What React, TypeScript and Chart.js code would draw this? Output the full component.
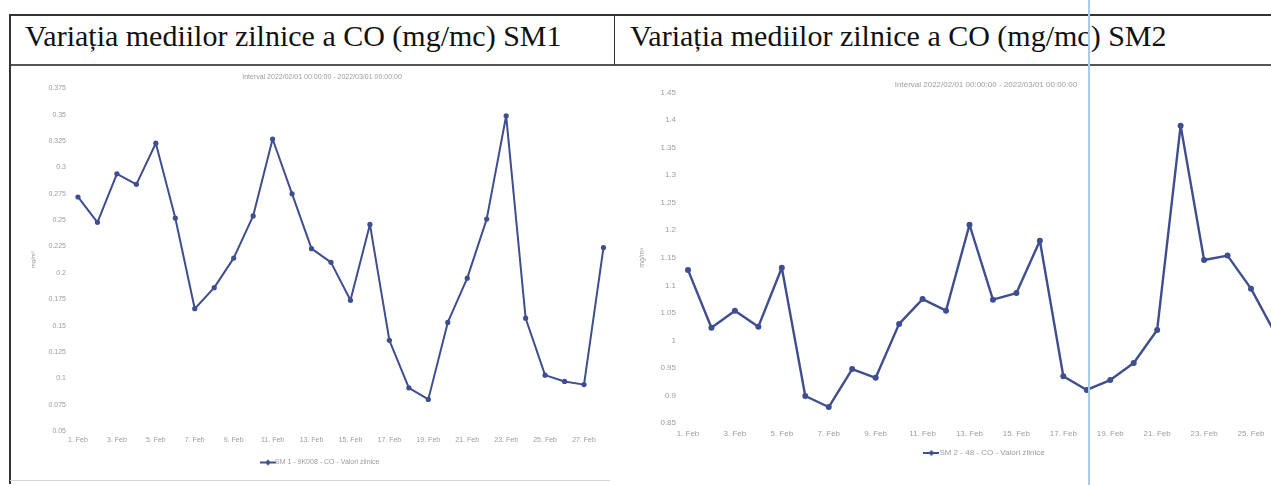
import React, { useEffect, useRef } from 'react';
import { Chart, registerables } from 'chart.js';

Chart.register(...registerables);

// ---------- data ----------
const sm1Days = [1, 2, 3, 4, 5, 6, 7, 8, 9, 10, 11, 12, 13, 14, 15, 16, 17, 18, 19, 20, 21, 22, 23, 24, 25, 26, 27, 28];
const sm1Values = [0.272, 0.248, 0.294, 0.284, 0.323, 0.252, 0.166, 0.186, 0.214, 0.254, 0.327, 0.275, 0.223, 0.21, 0.174, 0.246, 0.136, 0.091, 0.08, 0.153, 0.195, 0.251, 0.349, 0.157, 0.103, 0.097, 0.094, 0.224];

const sm2Days = [1, 2, 3, 4, 5, 6, 7, 8, 9, 10, 11, 12, 13, 14, 15, 16, 17, 18, 19, 20, 21, 22, 23, 24, 25, 26];
const sm2Values = [1.128, 1.023, 1.054, 1.025, 1.132, 0.899, 0.879, 0.948, 0.932, 1.03, 1.075, 1.054, 1.21, 1.074, 1.086, 1.181, 0.935, 0.91, 0.928, 0.959, 1.019, 1.39, 1.146, 1.154, 1.094, 1.015];

const xTickDays = [1, 3, 5, 7, 9, 11, 13, 15, 17, 19, 21, 23, 25, 27];
const sm1YTicks = [0.05, 0.075, 0.1, 0.125, 0.15, 0.175, 0.2, 0.225, 0.25, 0.275, 0.3, 0.325, 0.35, 0.375];
const sm2YTicks = [0.85, 0.9, 0.95, 1, 1.05, 1.1, 1.15, 1.2, 1.25, 1.3, 1.35, 1.4, 1.45];

const header1 = 'Variația mediilor zilnice a CO (mg/mc) SM1';
const header2 = 'Variația mediilor zilnice a CO (mg/mc) SM2';
const intervalText = 'Interval 2022/02/01 00:00:00 - 2022/03/01 00:00:00';
const sm1Label = 'SM 1 - 9K008 - CO - Valori zilnice';
const sm2Label = 'SM 2 - 48 - CO - Valori zilnice';
const unitLabel = 'mg/m³';

const LINE = '#3f4e8f';
const TEXT = '#9c9c9c';
const SANS = '"Liberation Sans", Arial, sans-serif';

type Cfg = {
  days: number[];
  values: number[];
  yTicks: number[];
  label: string;
  xMin: number;
  xMax: number;
  yAxisWidth: number;
  fontSize: number;
  lineWidth: number;
  pointRadius: number;
  titlePadTop: number;
  titlePadBottom: number;
  xAxisHeight: number;
  xTickPad: number;
  unitPad: number;
  legendPad: number;
  bottomPad: number;
};

function legendMarker(color: string, w: number, h: number, r: number, lw: number) {
  const c = document.createElement('canvas');
  c.width = w;
  c.height = h;
  const g = c.getContext('2d')!;
  g.strokeStyle = color;
  g.lineWidth = lw;
  g.beginPath();
  g.moveTo(0, h / 2);
  g.lineTo(w, h / 2);
  g.stroke();
  g.fillStyle = color;
  g.beginPath();
  g.moveTo(w / 2, h / 2 - r);
  g.lineTo(w / 2 + r, h / 2);
  g.lineTo(w / 2, h / 2 + r);
  g.lineTo(w / 2 - r, h / 2);
  g.closePath();
  g.fill();
  return c;
}

function LineChart({ cfg, style }: { cfg: Cfg; style: React.CSSProperties }) {
  const ref = useRef<HTMLCanvasElement | null>(null);
  useEffect(() => {
    if (!ref.current) return;
    const marker = legendMarker(LINE, 16, 8, 3, 2);
    const chart = new Chart(ref.current, {
      type: 'line',
      data: {
        datasets: [
          {
            label: cfg.label,
            data: cfg.days.map((d, i) => ({ x: d, y: cfg.values[i] })),
            borderColor: LINE,
            backgroundColor: LINE,
            borderWidth: cfg.lineWidth,
            borderJoinStyle: 'round',
            pointRadius: cfg.pointRadius,
            pointBackgroundColor: LINE,
            pointBorderWidth: 0,
            tension: 0,
          },
        ],
      },
      options: {
        animation: false,
        responsive: false,
        maintainAspectRatio: false,
        layout: { padding: { left: 0, right: 0, top: 0, bottom: cfg.bottomPad } },
        plugins: {
          title: {
            display: true,
            text: intervalText,
            color: TEXT,
            font: { family: SANS, size: cfg.fontSize, weight: 'normal' },
            padding: { top: cfg.titlePadTop, bottom: cfg.titlePadBottom },
          },
          legend: {
            display: true,
            position: 'bottom',
            labels: {
              color: TEXT,
              font: { family: SANS, size: cfg.fontSize },
              usePointStyle: true,
              padding: cfg.legendPad,
              generateLabels: (ch: any) =>
                Chart.defaults.plugins.legend.labels.generateLabels(ch).map((l: any) => ({
                  ...l,
                  pointStyle: marker,
                })),
            },
          },
          tooltip: { enabled: false },
        },
        scales: {
          x: {
            type: 'linear',
            min: cfg.xMin,
            max: cfg.xMax,
            grid: { display: false, drawTicks: false },
            border: { display: false },
            afterBuildTicks: (s: any) => {
              s.ticks = xTickDays.map((v) => ({ value: v }));
            },
            afterFit: (s: any) => {
              s.height = cfg.xAxisHeight;
            },
            ticks: {
              color: TEXT,
              font: { family: SANS, size: cfg.fontSize },
              padding: cfg.xTickPad,
              maxRotation: 0,
              autoSkip: false,
              callback: (v: any) => `${v}. Feb`,
            },
          },
          y: {
            type: 'linear',
            min: cfg.yTicks[0],
            max: cfg.yTicks[cfg.yTicks.length - 1],
            grid: { display: false, drawTicks: false },
            border: { display: false },
            afterBuildTicks: (s: any) => {
              s.ticks = cfg.yTicks.map((v) => ({ value: v }));
            },
            afterFit: (s: any) => {
              s.width = cfg.yAxisWidth;
            },
            title: {
              display: true,
              text: unitLabel,
              color: TEXT,
              font: { family: SANS, size: cfg.fontSize - 1 },
              padding: { top: cfg.unitPad, bottom: 0 },
            },
            ticks: {
              color: TEXT,
              font: { family: SANS, size: cfg.fontSize },
              padding: 4,
              callback: (v: any) => String(Number(v)),
            },
          },
        },
      },
    } as any);
    return () => chart.destroy();
  }, []);
  return <canvas ref={ref} width={style.width as number} height={style.height as number} style={style} />;
}

const cfg1: Cfg = {
  days: sm1Days,
  values: sm1Values,
  yTicks: sm1YTicks,
  label: sm1Label,
  xMin: 0.59,
  xMax: 29.26,
  yAxisWidth: 58,
  fontSize: 7,
  lineWidth: 2,
  pointRadius: 2.6,
  titlePadTop: 6,
  titlePadBottom: 7,
  xAxisHeight: 22,
  xTickPad: 5,
  unitPad: 18,
  legendPad: 6,
  bottomPad: 1,
};

const cfg2: Cfg = {
  days: sm2Days,
  values: sm2Values,
  yTicks: sm2YTicks,
  label: sm2Label,
  xMin: 0.66,
  xMax: 29.22,
  yAxisWidth: 62,
  fontSize: 8,
  lineWidth: 2.4,
  pointRadius: 3,
  titlePadTop: 13,
  titlePadBottom: 3,
  xAxisHeight: 20,
  xTickPad: 6,
  unitPad: 20,
  legendPad: 6,
  bottomPad: 10,
};

export default function App() {
  const line = (s: React.CSSProperties): React.CSSProperties => ({ position: 'absolute', ...s });
  const headerFont: React.CSSProperties = {
    position: 'absolute',
    fontFamily: '"Liberation Serif", "Times New Roman", serif',
    fontSize: 30,
    lineHeight: '30px',
    color: '#111',
    whiteSpace: 'nowrap',
  };
  return (
    <div style={{ position: 'fixed', left: 0, top: 0, width: 1271, height: 485, overflow: 'hidden', background: '#fff' }}>
      <div style={{ ...headerFont, left: 25, top: 21 }}>{header1}</div>
      <div style={{ ...headerFont, left: 630, top: 21 }}>{header2}</div>
      <LineChart cfg={cfg1} style={{ position: 'absolute', left: 12, top: 67, width: 620, height: 410 }} />
      <LineChart cfg={cfg2} style={{ position: 'absolute', left: 618, top: 67, width: 736, height: 410 }} />
      <div style={line({ left: 10, top: 14, width: 1261, height: 2, background: '#333' })} />
      <div style={line({ left: 10, top: 64, width: 1261, height: 2, background: '#555' })} />
      <div style={line({ left: 9, top: 14, width: 2, height: 470, background: '#333' })} />
      <div style={line({ left: 614, top: 15, width: 1, height: 50, background: '#333' })} />
      <div style={line({ left: 10, top: 480, width: 600, height: 1, background: '#d6d6d6' })} />
      <div style={line({ left: 1088, top: 0, width: 2, height: 485, background: '#a9cbea' })} />
    </div>
  );
}
